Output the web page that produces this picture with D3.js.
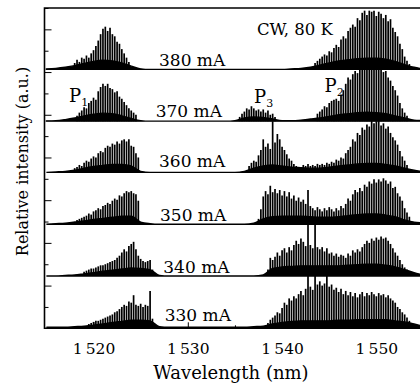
<!DOCTYPE html>
<html>
<head>
<meta charset="utf-8">
<script src="https://cdn.jsdelivr.net/npm/d3@7"></script>
<style>
  body { margin: 0; background: #fff; }
  svg { display: block; }
  text { font-family: "DejaVu Serif", serif; fill: #000; }
</style>
</head>
<body>
<div id="chart"></div>
<script>
// drive currents, top to bottom, and the vertical offset of each trace (a.u.)
const currents = ['380 mA', '370 mA', '360 mA', '350 mA', '340 mA', '330 mA'];
const offsets = [242.5, 194, 146, 97.5, 49, 1];

// ASE continuum, one value per nm from 1515 to 1555
const floorStart = 1515;
const floor380 = [0.5,1,2,3.5,5.5,7.5,8.5,8,6,3,0.5,0,0,0,0,0,0,0,0,0,0,0,0,0,0,0,0.5,1,2,4,6,8,9,10,10.5,10.5,9.5,7.5,4.5,2,0.5];
const floor370 = [0.3,0.5,1.5,3,5,6.5,7.5,7,5,2.5,0.5,0,0,0,0,0,0,0,0,0,0.5,3,4,3.5,2,0.5,0.5,1,2,3,4.5,6,7,8,8.5,8,7,5,3,1,0.5];
const floor360 = [0,0.5,1,2,4,5.5,6.5,7.5,7.5,6,1,0,0,0,0,0,0,0,0,0,0,1,4,6,7,6,5,4.5,4,4,5,6,7,8,8.5,8.5,7.5,6,4,2,0.5];
const floor350 = [0,0.5,1,2,3,4.5,5.5,6.5,7.5,7.5,2,0.5,0,0,0,0,0,0,0,0,0,0,1,5,7,7.5,7.5,7.5,7,6.5,6.5,7,8,9,9.5,9.5,8.5,7,4,2,1];
const floor340 = [0,0,0.5,1,2,3,4.5,5.5,6.5,7.5,7,6,0.5,0,0,0,0,0,0,0,0,0,0,1,7,8.5,9,9.5,9.5,9.5,9.5,9.5,10,10.5,11,11,10,8.5,6,3,1];
const floor330 = [0,0,0,0.5,1,2,3,4.5,5.5,6.5,6.5,6,0.5,0,0,0,0,0,0,0,0,0,0.5,1,3,4.5,5.5,6,6,6,6,6.5,6.5,7,7,7,7,6,5,3,1];

// longitudinal modes, one line every 0.25 nm: [first wavelength, heights]
const modeStep = 0.25;
const modes380 = [
  [1518, [6,9,7,11,10,13,11,15,18,22,27,33,38,40,36,39,33,31,26,24,19,15,11,7]],
  [1543.5, [6,8,10,12,14,13,17,16,20,23,21,28,31,29,36,39,42,40,48,46,53,55,51,55,54,55,50,54,52,48,51,45,47,39,35,31,24,19,12,8,5]]
];
const modes370 = [
  [1518.25, [5,8,10,13,12,17,19,22,20,28,32,35,33,35,31,30,27,28,23,21,18,15,12,10,8,6]],
  [1535.5, [4,7,9,12,11,14,12,10,11,9,11,8,10,6,7,4]],
  [1543.75, [7,9,11,14,13,17,19,20,21,19,25,29,35,41,39,44,47,45,51,53,56,52,55,53,50,54,49,50,46,47,41,38,33,29,24,17,12,8,5]]
];
const modes360 = [
  [1518, [4,5,7,6,9,11,10,13,15,14,18,20,19,23,25,24,27,26,29,27,30,31,29,31,25,24,18,14]],
  [1536.5, [6,9,11,10,16,21,31,24,27,22,48,28,36,31,24,21,17,13,11,8,6]],
  [1542, [5,7,6,8,6,7,6,8,7,8,7,9,8,10,9,12,11,14,13,18,21,24,31,29,37,35,42,40,45,43,49,46,48,49,44,46,41,43,37,33,30,26,20,15,11,7]]
];
const modes350 = [
  [1518.25, [4,5,6,7,8,10,9,12,13,15,14,17,18,20,19,22,24,23,27,26,29,31,30,31,29,28,22]],
  [1537.5, [5,14,26,31,28,36,30,33,29,32,27,31,26,30,24,27,22,25,21,23,19,32,17,15,13,16,14,12,15,13,16,14,12,15,13,17,15,19,24,22,28,32,30,34,31,37,35,40,38,42,39,42,40,43,41,38,40,34,35,29,26,22,15,11,7]]
];
const modes340 = [
  [1519, [4,5,6,7,7,8,9,10,10,11,12,13,14,15,17,19,22,25,23,28,30,32,25,19,16,14,13,14,15,6]],
  [1538.5, [6,17,15,18,22,19,24,26,22,27,24,29,33,30,35,32,28,52,29,26,52,27,25,27,23,26,21,22,19,21,18,20,19,17,21,19,24,22,25,23,27,30,33,31,35,33,36,34,37,35,36,33,30,26,22,19,15,11,8,6]]
];
const modes330 = [
  [1519.5, [3,4,5,6,6,7,8,9,10,11,12,14,15,17,19,21,20,24,23,30,21,20,22,19,21,20,34,8]],
  [1538.5, [4,7,9,11,14,13,18,23,21,27,25,29,27,31,34,30,36,54,38,35,54,40,43,39,41,52,38,40,35,37,33,36,31,34,30,33,29,32,28,31,33,29,32,30,33,31,29,32,30,31,28,30,27,25,23,19,17,14,12,9,6]]
];

const xMajor = [1520, 1530, 1540, 1550];
const xMinor = [1525, 1535, 1545];
const yMajor = [40, 80, 120, 160, 200, 240, 280];
const yMinor = [20, 60, 100, 140, 180, 220, 260, 300];

const floors = [floor380, floor370, floor360, floor350, floor340, floor330];
const modes = [modes380, modes370, modes360, modes350, modes340, modes330];

const width = 420, height = 388;
const padLeft = 44.5, padTop = 8, axisY = 328.3;

const svg = d3.select('#chart').append('svg')
  .attr('width', width)
  .attr('height', height);

const x = d3.scaleLinear().domain([1514.8, 1555]).range([padLeft, 423.5]);
const y = d3.scaleLinear().domain([0, 300]).range([axisY, padTop]);

const plot = svg.append('g');

currents.forEach((label, k) => {
  const off = offsets[k];

  // continuum hump
  const area = d3.area()
    .x((d, i) => x(floorStart + i))
    .y0(y(off))
    .y1(d => y(off + d))
    .curve(d3.curveMonotoneX);

  plot.append('path')
    .datum(floors[k])
    .attr('d', area)
    .attr('fill', '#000')
    .attr('stroke', '#000')
    .attr('stroke-width', 1.4);

  // mode lines
  const lines = [];
  modes[k].forEach(([start, hs]) => {
    hs.forEach((h, i) => lines.push({wl: start + i * modeStep, h: h}));
  });

  plot.selectAll(null)
    .data(lines)
    .enter().append('line')
    .attr('x1', d => x(d.wl))
    .attr('x2', d => x(d.wl))
    .attr('y1', y(off))
    .attr('y2', d => y(off + d.h))
    .attr('stroke', '#000')
    .attr('stroke-width', 1.7);
});

// x axis ticks (inward)
const fmt = d => String(d).replace(/^(\d)/, '$1\u2009');
svg.append('g')
  .attr('transform', `translate(0,${axisY})`)
  .call(d3.axisBottom(x).tickValues(xMajor).tickSize(-6).tickPadding(15).tickFormat(fmt))
  .call(g => g.select('.domain').remove())
  .call(g => g.selectAll('text').attr('font-size', 15.5).attr('font-family', '"DejaVu Serif", serif'));

svg.append('g')
  .attr('transform', `translate(0,${axisY})`)
  .call(d3.axisBottom(x).tickValues(xMinor).tickSize(-3).tickFormat(''))
  .call(g => g.select('.domain').remove());

// y axis ticks (inward, no labels)
svg.append('g')
  .attr('transform', `translate(${padLeft},0)`)
  .call(d3.axisLeft(y).tickValues(yMajor).tickSize(-7).tickFormat(''))
  .call(g => g.select('.domain').remove());

svg.append('g')
  .attr('transform', `translate(${padLeft},0)`)
  .call(d3.axisLeft(y).tickValues(yMinor).tickSize(-4).tickFormat(''))
  .call(g => g.select('.domain').remove());

// frame
svg.append('path')
  .attr('d', `M${width},${padTop}H${padLeft}V${axisY}H${width}`)
  .attr('fill', 'none')
  .attr('stroke', '#000')
  .attr('stroke-width', 1.6);

// current labels
const labelPos = [[159, 65.7], [155.7, 116.7], [159, 167.3], [160, 220.7], [163.3, 273.3], [164.7, 321]];
currents.forEach((label, k) => {
  svg.append('text')
    .attr('x', labelPos[k][0])
    .attr('y', labelPos[k][1])
    .attr('font-size', 17)
    .text(label);
});

svg.append('text')
  .attr('x', 257)
  .attr('y', 35)
  .attr('font-size', 16.5)
  .text('CW, 80 K');

const peaks = [['P', '1', 69, 101.7], ['P', '3', 254, 103.3], ['P', '2', 324.5, 91.7]];
peaks.forEach(([p, s, px, py]) => {
  const t = svg.append('text').attr('x', px).attr('y', py).attr('font-size', 18);
  t.append('tspan').text(p);
  t.append('tspan').attr('dy', 4).attr('font-size', 11).text(s);
});

// axis titles
svg.append('text')
  .attr('x', 231)
  .attr('y', 379)
  .attr('text-anchor', 'middle')
  .attr('font-size', 18)
  .text('Wavelength (nm)');

svg.append('text')
  .attr('transform', 'translate(28,161.5) rotate(-90)')
  .attr('text-anchor', 'middle')
  .attr('font-size', 16)
  .text('Relative intensity (a.u.)');
</script>
</body>
</html>
